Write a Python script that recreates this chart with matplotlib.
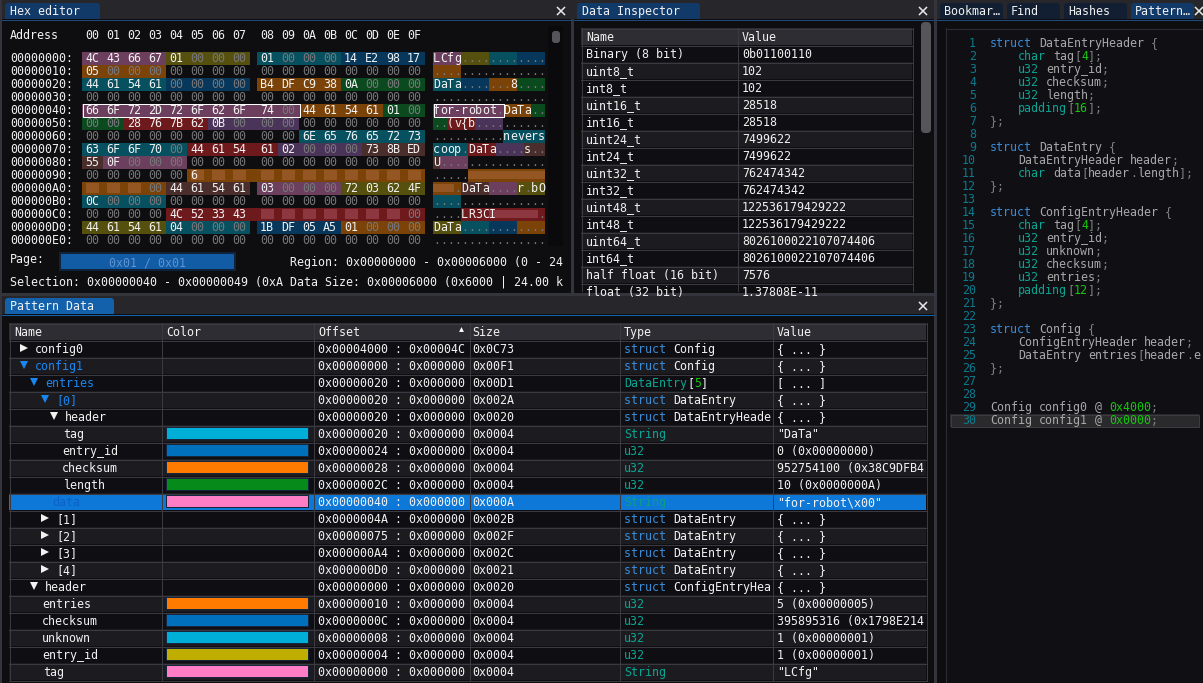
#!/usr/bin/env python3
import re
import matplotlib
matplotlib.use('Agg')
import matplotlib.pyplot as plt
from matplotlib.patches import Rectangle, FancyBboxPatch

# hex editor contents
hex_addresses = ['00000000', '00000010', '00000020', '00000030', '00000040', '00000050', '00000060',
                 '00000070', '00000080', '00000090', '000000A0', '000000B0', '000000C0', '000000D0', '000000E0']
zero_row = '00 00 00 00 00 00 00 00 00 00 00 00 00 00 00 00'
hex_rows = [
    '4C 43 66 67 01 00 00 00 01 00 00 00 14 E2 98 17',
    '05 00 00 00 00 00 00 00 00 00 00 00 00 00 00 00',
    '44 61 54 61 00 00 00 00 B4 DF C9 38 0A 00 00 00',
    zero_row,
    '66 6F 72 2D 72 6F 62 6F 74 00 44 61 54 61 01 00',
    '00 00 28 76 7B 62 0B 00 00 00 00 00 00 00 00 00',
    '00 00 00 00 00 00 00 00 00 00 6E 65 76 65 72 73',
    '63 6F 6F 70 00 44 61 54 61 02 00 00 00 73 8B ED',
    '55 0F 00 00 00 00 00 00 00 00 00 00 00 00 00 00',
    '00 00 00 00 00 -- -- -- -- -- -- -- -- -- -- --',
    '-- -- -- 00 44 61 54 61 03 00 00 00 72 03 62 4F',
    '0C 00 00 00 00 00 00 00 00 00 00 00 00 00 00 00',
    '00 00 00 00 4C 52 33 43 -- -- -- -- -- -- -- 00',
    '44 61 54 61 04 00 00 00 1B DF 05 A5 01 00 00 00',
    zero_row,
]
# highlight spans: row, first byte, last byte, colour name
hex_spans = [
    (0, 0, 3, 'pink'), (0, 4, 7, 'olive'), (0, 8, 11, 'teal'), (0, 12, 15, 'navy'),
    (1, 0, 3, 'orange'),
    (2, 0, 3, 'teal'), (2, 4, 7, 'navy'), (2, 8, 11, 'orange'), (2, 12, 15, 'green'),
    (4, 0, 9, 'pink'), (4, 10, 13, 'orange'), (4, 14, 15, 'green'),
    (5, 0, 1, 'green'), (5, 2, 5, 'red'), (5, 6, 9, 'purple'),
    (6, 10, 15, 'teal'),
    (7, 0, 4, 'teal'), (7, 5, 8, 'red'), (7, 9, 12, 'purple'), (7, 13, 15, 'brown'),
    (8, 0, 0, 'brown'), (8, 1, 4, 'pink'),
    (9, 5, 15, 'orange'),
    (10, 0, 3, 'orange'), (10, 4, 7, 'brown'), (10, 8, 11, 'pink'), (10, 12, 15, 'olive'),
    (11, 0, 3, 'teal'),
    (12, 4, 15, 'red'),
    (13, 0, 3, 'olive'), (13, 4, 7, 'teal'), (13, 8, 11, 'navy'), (13, 12, 15, 'orange'),
]
span_colors = {'pink': '#6b3f5d', 'olive': '#56500f', 'teal': '#07505f', 'navy': '#07375a',
               'orange': '#7c4309', 'green': '#0b4a1e', 'brown': '#4a2e2b', 'red': '#6e1a1c',
               'purple': '#4a3459'}

# data inspector
inspector_names = ['Binary (8 bit)', 'uint8_t', 'int8_t', 'uint16_t', 'int16_t', 'uint24_t', 'int24_t',
                   'uint32_t', 'int32_t', 'uint48_t', 'int48_t', 'uint64_t', 'int64_t',
                   'half float (16 bit)', 'float (32 bit)']
inspector_values = ['0b01100110', '102', '102', '28518', '28518', '7499622', '7499622', '762474342',
                    '762474342', '122536179429222', '122536179429222', '8026100022107074406',
                    '8026100022107074406', '7576', '1.37808E-11']

# pattern data table
pattern_names = ['config0', 'config1', 'entries', '[0]', 'header', 'tag', 'entry_id', 'checksum', 'length',
                 'data', '[1]', '[2]', '[3]', '[4]', 'header', 'entries', 'checksum', 'unknown', 'entry_id', 'tag']
pattern_indent = [35, 35, 45, 56, 65, 63, 62, 62, 63, 52, 56, 56, 56, 56, 45, 42, 42, 42, 42, 43]
pattern_arrows = ['>', 'v', 'v', 'v', 'v', '', '', '', '', '', '>', '>', '>', '>', 'v', '', '', '', '', '']
pattern_swatches = [None, None, None, None, None, '#00afd8', '#0070bc', '#ff7b00', '#068a1a', '#ff7dc5',
                    None, None, None, None, None, '#ff7b00', '#0070bc', '#00afd8', '#bfae00', '#ff7dc5']
pattern_offsets = ['00004000', '00000000', '00000020', '00000020', '00000020', '00000020', '00000024',
                   '00000028', '0000002C', '00000040', '0000004A', '00000075', '000000A4', '000000D0',
                   '00000000', '00000010', '0000000C', '00000008', '00000004', '00000000']
pattern_ends = ['00004C'] + ['000000'] * 19
pattern_sizes = ['0C73', '00F1', '00D1', '002A', '0020', '0004', '0004', '0004', '0004', '000A',
                 '002B', '002F', '002C', '0021', '0020', '0004', '0004', '0004', '0004', '0004']
pattern_types = ['struct Config', 'struct Config', 'DataEntry[5]', 'struct DataEntry', 'struct DataEntryHeade',
                 'String', 'u32', 'u32', 'u32', 'String', 'struct DataEntry', 'struct DataEntry',
                 'struct DataEntry', 'struct DataEntry', 'struct ConfigEntryHea', 'u32', 'u32', 'u32', 'u32', 'String']
pattern_values = ['{ ... }', '{ ... }', '[ ... ]', '{ ... }', '{ ... }', '"DaTa"', '0 (0x00000000)',
                  '952754100 (0x38C9DFB4', '10 (0x0000000A)', '"for-robot\\x00"', '{ ... }', '{ ... }',
                  '{ ... }', '{ ... }', '{ ... }', '5 (0x00000005)', '395895316 (0x1798E214',
                  '1 (0x00000001)', '1 (0x00000001)', '"LCfg"']

# pattern source
code_lines = [
    'struct DataEntryHeader {', '    char tag[4];', '    u32 entry_id;', '    u32 checksum;', '    u32 length;',
    '    padding[16];', '};', '', 'struct DataEntry {', '    DataEntryHeader header;',
    '    char data[header.length];', '};', '', 'struct ConfigEntryHeader {', '    char tag[4];',
    '    u32 entry_id;', '    u32 unknown;', '    u32 checksum;', '    u32 entries;', '    padding[12];', '};', '',
    'struct Config {', '    ConfigEntryHeader header;', '    DataEntry entries[header.e', '};', '', '',
    'Config config0 @ 0x4000;', 'Config config1 @ 0x0000;',
]

WHITE = '#f2f2f2'
BLUE = '#3a8cd8'
TEAL = '#0aa593'
GREEN = '#16c60c'
GREY = '#a8a8a8'
DIM = '#77777a'
GRID = '#3a3a40'
SEP = '#34343c'
CHAR = 7.0
FONT = 8.4

fig = plt.figure(figsize=(12.03, 6.83), dpi=100, facecolor='#26262b')
ax = fig.add_axes([0, 0, 1, 1])
ax.set_xlim(0, 1203)
ax.set_ylim(683, 0)
ax.axis('off')


def rect(x0, y0, x1, y1, color, **kw):
    p = Rectangle((x0, y0), x1 - x0, y1 - y0, facecolor=color, edgecolor='none', antialiased=False, **kw)
    ax.add_patch(p)
    return p


def label(x, y, s, color=WHITE, clip=None, **kw):
    t = ax.text(x, y + 4, s, color=color, family='DejaVu Sans Mono', fontsize=FONT, va='baseline', **kw)
    if clip is not None:
        t.set_clip_path(clip)
    return t


def segments(x, y, parts, clip=None):
    for s, color in parts:
        if s.strip():
            label(x, y, s, color, clip)
        x += CHAR * len(s)


def tab(x0, x1, s, color, top=3, pad=5):
    ax.add_patch(FancyBboxPatch((x0, top), x1 - x0, 20, boxstyle='round,pad=0,rounding_size=3',
                                facecolor=color, edgecolor='none'))
    label(x0 + pad, top + 8, s)


def close_icon(x, y):
    ax.plot([x - 3.5, x + 3.5], [y - 3.5, y + 3.5], color='#e8e8e8', lw=1.1)
    ax.plot([x - 3.5, x + 3.5], [y + 3.5, y - 3.5], color='#e8e8e8', lw=1.1)


def table_grid(x0, x1, y0, y1, splits, nrows):
    rect(x0, y0, x1, y0 + 17, '#2d2d33')
    for i in range(nrows):
        top = y0 + 17 + 17 * i
        rect(x0, top, x1, min(top + 17, y1), '#1c1c20' if i % 2 else '#0f0f13')
    for i in range(nrows + 1):
        yy = y0 + 17 + 17 * i
        if yy <= y1:
            ax.plot([x0, x1], [yy + 0.5, yy + 0.5], color=GRID, lw=0.72)
    ax.plot([x0, x1], [y0 + 0.5, y0 + 0.5], color=GRID, lw=0.72)
    for xx in [x0, x1] + splits:
        ax.plot([xx + 0.5, xx + 0.5], [y0, y1], color=GRID, lw=0.72)


# hex editor panel
tab(5, 100, 'Hex editor', '#113a69')
rect(2, 19, 571, 293, '#0e0e11')
ax.plot([2, 571], [19.5, 19.5], color='#1f4a7e', lw=0.72)
close_icon(561, 11)
rect(548, 26, 563, 246, '#0a0a0c')
ax.add_patch(FancyBboxPatch((552, 31), 8, 12, boxstyle='round,pad=0,rounding_size=3',
                            facecolor='#55555a', edgecolor='none'))
hex_clip = rect(2, 19, 563, 293, 'none')

col_x = [82 + 21 * i + (7 if i > 7 else 0) for i in range(16)]
row_y = [58 + 13 * i for i in range(len(hex_rows))]
label(10, 35, 'Address')
for i, x in enumerate(col_x):
    label(x + 3, 35, '%02X' % i)
for r, c0, c1, name in hex_spans:
    y = row_y[r]
    x0 = col_x[c0]
    x1 = col_x[c1] + 21
    rect(x0, y - 6.5, x1 if c1 != 7 else 250, y + 6.5, span_colors[name])
    rect(433 + 7 * c0, y - 6.5, 433 + 7 * (c1 + 1), y + 6.5, span_colors[name])

for r, row in enumerate(hex_rows):
    y = row_y[r]
    label(10, y, hex_addresses[r] + ':')
    for c, byte in enumerate(row.split()):
        if byte == '--':
            # redacted bytes
            tone = '#a9683a' if r != 12 else '#a8505e'
            rect(col_x[c] + 4, y - 5, col_x[c] + 17, y + 5, tone, alpha=0.55)
            rect(433 + 7 * c, y - 4, 440 + 7 * c, y + 4, tone, alpha=0.55)
            continue
        val = int(byte, 16)
        label(col_x[c] + 3, y, byte, DIM if val == 0 else WHITE)
        ch = chr(val) if 32 < val < 127 else '.'
        label(433 + 7 * c, y, ch, WHITE if ch != '.' else DIM)
label(col_x[5] + 3, row_y[9], '6')
label(433 + 7 * 8, row_y[12], 'I')

ax.plot([82.5, 299.5, 299.5, 82.5, 82.5], [103.5, 103.5, 116.5, 116.5, 103.5], color='white', lw=0.72, zorder=5)
ax.plot([433.5, 503.5, 503.5, 433.5, 433.5], [103.5, 103.5, 116.5, 116.5, 103.5], color='white', lw=0.72, zorder=5)

label(10, 259, 'Page:')
rect(59, 252, 236, 271, '#10233c')
rect(61, 254, 234, 269, '#115ca5')
label(147.5, 262, '0x01 / 0x01', '#5f93d3', ha='center')
label(290, 262, 'Region: 0x00000000 - 0x00006000 (0 - 24', clip=hex_clip)
label(10, 282, 'Selection: 0x00000040 - 0x00000049 (0xA Data Size: 0x00006000 (0x6000 | 24.00 k', clip=hex_clip)

# data inspector panel
tab(577, 700, 'Data Inspector', '#113a69')
rect(574, 19, 934, 293, '#0e0e11')
ax.plot([574, 934], [19.5, 19.5], color='#1f4a7e', lw=0.72)
close_icon(923, 11)
table_grid(581, 912, 28, 291, [737], 15)
insp_clip = rect(574, 19, 934, 291, 'none')
label(586, 37, 'Name')
label(742, 37, 'Value')
for i, (n, v) in enumerate(zip(inspector_names, inspector_values)):
    y = 54 + 17 * i
    label(586, y, n, clip=insp_clip)
    label(742, y, v, clip=insp_clip)
ax.add_patch(FancyBboxPatch((921, 22), 10, 111, boxstyle='round,pad=0,rounding_size=4',
                            facecolor='#55555a', edgecolor='none'))

# pattern source panel
tab(940, 1003, 'Bookmar…', '#121f33', pad=4)
tab(1007, 1060, 'Find', '#121f33', pad=4)
tab(1064, 1127, 'Hashes', '#121f33', pad=4)
tab(1131, 1194, 'Pattern…', '#113a69', pad=4)
rect(937, 19, 1203, 683, '#0e0e11')
ax.plot([937, 1203], [19.5, 19.5], color='#1f4a7e', lw=0.72)
close_icon(1199, 11)
rect(945, 28, 1203, 683, '#100f14')
ax.plot([945.5, 945.5], [28, 683], color='#2c2c32', lw=0.72)
ax.plot([945.5, 1203], [28.5, 28.5], color='#2c2c32', lw=0.72)
code_clip = rect(945, 28, 1203, 683, 'none')
rect(950, 414, 1199, 427, '#2a2a2c')
ax.plot([950.5, 1198.5, 1198.5, 950.5, 950.5], [414.5, 414.5, 426.5, 426.5, 414.5], color='#3c3c40', lw=0.72)


def code_parts(line):
    parts = []
    for tok in re.findall(r'0x[0-9A-Fa-f]+|\d+|\w+|\s+|.', line):
        if tok == 'struct':
            parts.append((tok, BLUE))
        elif tok in ('char', 'u32', 'padding'):
            parts.append((tok, TEAL))
        elif re.fullmatch(r'0x[0-9A-Fa-f]+|\d+', tok):
            parts.append((tok, GREEN))
        elif re.fullmatch(r'[\[\]{};.]', tok):
            parts.append((tok, '#808080'))
        else:
            parts.append((tok, GREY))
    return parts


def type_parts(s):
    if s.startswith('struct '):
        return [('struct ', BLUE), (s[7:], WHITE)]
    m = re.fullmatch(r'(\w+)\[(\d+)\]', s)
    if m:
        return [(m.group(1), TEAL), ('[', WHITE), (m.group(2), GREEN), (']', WHITE)]
    return [(s, TEAL)]


for i, line in enumerate(code_lines):
    y = 43 + 13 * i
    label(976, y, str(i + 1), '#0c7a8c', ha='right')
    segments(990, y, code_parts(line), code_clip)

# pattern data panel
tab(5, 114, 'Pattern Data', '#1361ab', top=298)
rect(2, 314, 934, 683, '#0e0e11')
ax.plot([2, 934], [314.5, 314.5], color='#1361ab', lw=0.72)
close_icon(923, 306)

splits = [161, 313, 469, 619, 772]
table_y0 = 323
table_grid(9, 926, table_y0, 681, splits, 20)
for x, s in zip([14, 166, 318, 472, 624, 777], ['Name', 'Color', 'Offset', 'Size', 'Type', 'Value']):
    label(x, table_y0 + 9, s)
ax.plot([461], [329], marker='^', ms=3.5, color='white', mew=0)

for i in range(20):
    y = 349 + 17 * i
    selected = pattern_names[i] == 'data'
    if selected:
        rect(9, y - 8, 926, y + 8, '#0e78d8')
    opened_blue = i in (1, 2, 3)
    name_color = '#0a62c8' if selected else ('#1a86f0' if opened_blue else WHITE)
    nx = pattern_indent[i]
    if pattern_arrows[i]:
        ax.plot([nx - 11], [y - 1], marker=pattern_arrows[i], ms=5.5, mew=0,
                color='#1a86f0' if opened_blue else WHITE)
    label(nx, y, pattern_names[i], name_color)
    if pattern_swatches[i]:
        rect(166, y - 7, 309, y + 6, '#16263c')
        rect(167, y - 6, 308, y + 5, pattern_swatches[i])
    label(318, y, '0x%s : 0x%s' % (pattern_offsets[i], pattern_ends[i]))
    label(472, y, '0x' + pattern_sizes[i])
    if selected:
        label(624, y, pattern_types[i], '#0a9e8a')
    else:
        segments(624, y, type_parts(pattern_types[i]))
    label(777, y, pattern_values[i])

# separators between docked panels
rect(0, 0, 2, 683, SEP)
rect(571, 19, 574, 293, SEP)
rect(934, 0, 937, 683, SEP)
rect(0, 293, 934, 296, SEP)

plt.savefig('out.png', dpi=100, facecolor=fig.get_facecolor())
